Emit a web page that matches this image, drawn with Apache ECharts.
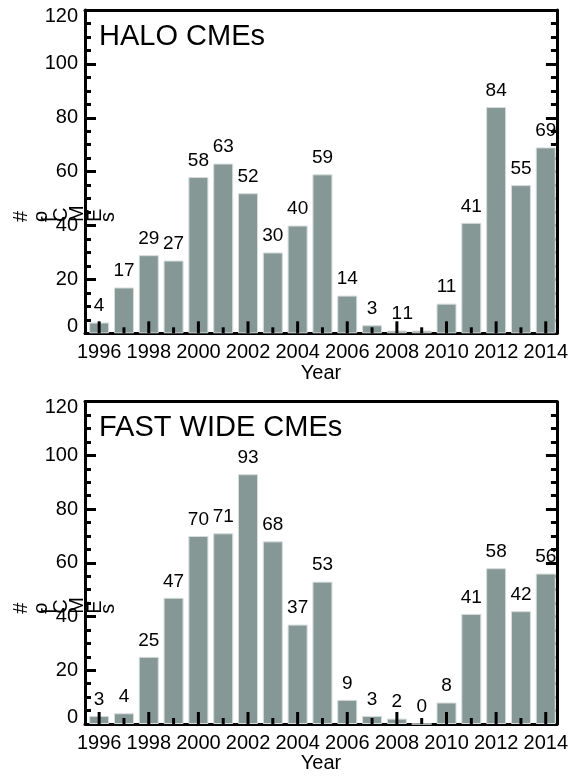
<!DOCTYPE html>
<html>
<head>
<meta charset="utf-8">
<script src="https://cdn.jsdelivr.net/npm/echarts@6/dist/echarts.min.js"></script>
<style>
html,body{margin:0;padding:0;background:#fff;}
#chart{width:571px;height:776px;}
</style>
</head>
<body>
<div id="chart"></div>
<script>
// ---- data ----
const years = [1996,1997,1998,1999,2000,2001,2002,2003,2004,2005,2006,2007,2008,2009,2010,2011,2012,2013,2014];
const haloCounts = [4,17,29,27,58,63,52,30,40,59,14,3,1,1,11,41,84,55,69];
const fastWideCounts = [3,4,25,47,70,71,93,68,37,53,9,3,2,0,8,41,58,42,56];
const majorYears = [1996,1998,2000,2002,2004,2006,2008,2010,2012,2014];
const minorYears = [1997,1999,2001,2003,2005,2007,2009,2011,2013];
const panelTitles = ['HALO CMEs', 'FAST WIDE CMEs'];
const yTitleChars = ['#','o','f','C','M','E','s'];
const xName = 'Year';

// ---- styles / layout ----
const FONT = 'Liberation Sans, Arial, Helvetica, sans-serif';
const BAR = '#869896';
const XMIN = 1995.43, XMAX = 2014.45;
const MAJOR_LEN = 12, MINOR_LEN = 6;
const grids = [
  {left: 85, top: 10, width: 475.5, height: 323.3},
  {left: 85, top: 401.7, width: 475.5, height: 322.3}
];
const seriesData = [haloCounts, fastWideCounts];
// label nudges (halo panel: 2009 label sits right next to the 2008 one)
const labelOffsets = [{2009: [-14, 0]}, {}];

const xAxes = [], yAxes = [], series = [], titles = [], graphics = [];

grids.forEach((g, i) => {
  xAxes.push({
    type: 'value', gridIndex: i, position: 'bottom', min: XMIN, max: XMAX,
    axisLine: {show: true, onZero: false, lineStyle: {color: '#000', width: 3}},
    axisTick: {show: false},
    axisLabel: {show: true, customValues: majorYears, color: '#000', fontSize: 20, fontFamily: FONT, margin: 9,
      formatter: v => String(Math.round(v))},
    splitLine: {show: false},
    name: xName, nameLocation: 'middle', nameGap: 29,
    nameTextStyle: {color: '#000', fontSize: 20, fontFamily: FONT}
  });
  xAxes.push({
    type: 'value', gridIndex: i, position: 'top', min: XMIN, max: XMAX,
    axisLine: {show: true, onZero: false, lineStyle: {color: '#000', width: 3}},
    axisTick: {show: false}, axisLabel: {show: false}, splitLine: {show: false}
  });

  const yCommon = {
    type: 'value', gridIndex: i, min: 0, max: 120, interval: 20,
    axisLine: {show: true, onZero: false, lineStyle: {color: '#000', width: 3}},
    axisTick: {show: true, inside: true, length: 11, lineStyle: {color: '#000', width: 3}},
    minorTick: {show: true, splitNumber: 4, length: 6, lineStyle: {color: '#000', width: 3}},
    splitLine: {show: false}, minorSplitLine: {show: false}
  };
  yAxes.push(Object.assign({}, yCommon, {
    position: 'left',
    axisLabel: {show: true, color: '#000', fontSize: 20, fontFamily: FONT, margin: 7,
      formatter: v => v === 0 ? '{lo|0}' : (v === 120 ? '{hi|120}' : String(v)),
      rich: {
        lo: {fontSize: 20, fontFamily: FONT, color: '#000', padding: [0, 0, 13, 0]},
        hi: {fontSize: 20, fontFamily: FONT, color: '#000', padding: [12, 0, 0, 0]}
      }}
  }));
  yAxes.push(Object.assign({}, yCommon, {position: 'right', axisLabel: {show: false}}));

  series.push({
    type: 'bar', xAxisIndex: i * 2, yAxisIndex: i * 2, barWidth: 20, z: 2,
    itemStyle: {color: BAR, borderColor: '#d6dcdb', borderWidth: 1},
    label: {show: true, position: 'top', distance: 7, color: '#000', fontSize: 19, fontFamily: FONT,
      formatter: p => String(p.value[1])},
    emphasis: {disabled: true},
    data: years.map((y, k) => {
      const item = {value: [y, seriesData[i][k]]};
      if (labelOffsets[i][y]) item.label = {offset: labelOffsets[i][y]};
      return item;
    })
  });

  // bottom-axis ticks (major on even years, minor on odd), drawn over the bars via the axis scale
  series.push({
    type: 'custom', xAxisIndex: i * 2, yAxisIndex: i * 2, z: 6, silent: true,
    encode: {x: 0, y: 0},
    data: majorYears.map(y => [y, MAJOR_LEN]).concat(minorYears.map(y => [y, MINOR_LEN])),
    renderItem: (params, api) => {
      const p = api.coord([api.value(0), 0]);
      const len = api.value(1);
      return {
        type: 'line',
        shape: {x1: p[0], y1: p[1], x2: p[0], y2: p[1] - len},
        style: {stroke: '#000', lineWidth: 3}
      };
    }
  });

  titles.push({
    text: panelTitles[i], left: 99, top: g.top + 12, padding: 0,
    textStyle: {color: '#000', fontSize: 29, fontWeight: 'normal', fontFamily: FONT}
  });

  const glyphX = [31, 51, 60, 71, 87, 105, 118];
  const yb = g.top + 212;
  yTitleChars.forEach((c, k) => {
    graphics.push({
      type: 'text', x: glyphX[k], y: yb, rotation: Math.PI / 2,
      style: {text: c, fill: '#000', fontSize: 20, fontFamily: FONT, align: 'left', verticalAlign: 'bottom'},
      z: 10
    });
  });
});

const chart = echarts.init(document.getElementById('chart'), null, {renderer: 'canvas'});
chart.setOption({
  animation: false,
  backgroundColor: '#fff',
  title: titles,
  grid: grids,
  xAxis: xAxes,
  yAxis: yAxes,
  series: series,
  graphic: graphics
});
</script>
</body>
</html>
